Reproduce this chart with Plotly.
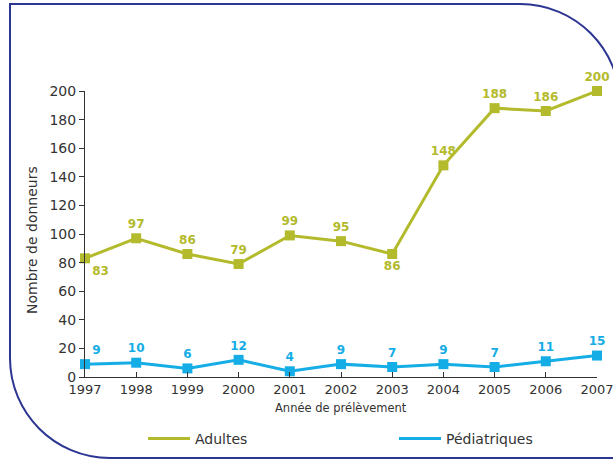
import plotly.graph_objects as go

years = [1997, 1998, 1999, 2000, 2001, 2002, 2003, 2004, 2005, 2006, 2007]
adultes = [83, 97, 86, 79, 99, 95, 86, 148, 188, 186, 200]
pediatriques = [9, 10, 6, 12, 4, 9, 7, 9, 7, 11, 15]
y_ticks = list(range(0, 201, 20))

C_AD = "#b3ba2c"
C_PE = "#14ade6"
NAVY = "#2b3592"
TXT = "#333333"
FONT = "DejaVu Sans"

W, H = 613, 461
L, R, T, B = 85, 16, 91, 84
PW, PH = W - L - R, H - T - B

def px(x):
    return (x - L) / PW

def py(y):
    return (H - B - y) / PH

ad_pos = ["bottom right"] + ["top center"] * 5 + ["bottom center"] + ["top center"] * 4
pe_pos = ["top right"] + ["top center"] * 10

fig = go.Figure()
fig.add_trace(go.Scatter(
    x=years, y=adultes, mode="lines+markers+text", name="Adultes",
    line=dict(color=C_AD, width=3), marker=dict(symbol="square", size=10, color=C_AD),
    text=[str(v) for v in adultes], textposition=ad_pos,
    textfont=dict(family=FONT, size=12, color=C_AD, weight="bold"),
    cliponaxis=False, showlegend=False, hoverinfo="skip"))
fig.add_trace(go.Scatter(
    x=years, y=pediatriques, mode="lines+markers+text", name="Pédiatriques",
    line=dict(color=C_PE, width=3), marker=dict(symbol="square", size=10, color=C_PE),
    text=[str(v) for v in pediatriques], textposition=pe_pos,
    textfont=dict(family=FONT, size=12, color=C_PE, weight="bold"),
    cliponaxis=False, showlegend=False, hoverinfo="skip"))
# legend entries (line only)
fig.add_trace(go.Scatter(x=[None], y=[None], mode="lines", name="Adultes",
                         line=dict(color=C_AD, width=3), legend="legend"))
fig.add_trace(go.Scatter(x=[None], y=[None], mode="lines", name="Pédiatriques",
                         line=dict(color=C_PE, width=3), legend="legend2"))

k = 0.5523 * 100
border = (
    f"M {px(10)},{py(4)} L {px(520)},{py(4)} "
    f"C {px(520 + k)},{py(4)} {px(620)},{py(104 - k)} {px(620)},{py(104)} "
    f"L {px(620)},{py(458)} L {px(110)},{py(458)} "
    f"C {px(110 - k)},{py(458)} {px(10)},{py(358 + k)} {px(10)},{py(358)} Z"
)

leg_common = dict(orientation="h", y=py(439), xanchor="left", yanchor="middle",
                  itemwidth=42, font=dict(family=FONT, size=14, color=TXT),
                  bgcolor="rgba(0,0,0,0)")

fig.update_layout(
    width=W, height=H, autosize=False,
    margin=dict(l=L, r=R, t=T, b=B, autoexpand=False),
    paper_bgcolor="white", plot_bgcolor="white",
    font=dict(family=FONT, color=TXT),
    shapes=[dict(type="path", xref="paper", yref="paper", path=border,
                 line=dict(color=NAVY, width=2), layer="below")],
    xaxis=dict(range=[1997, 2007], tickvals=years, ticktext=[str(y) for y in years],
               showgrid=False, zeroline=False, showline=True, linecolor=TXT, linewidth=1,
               ticks="inside", ticklen=5, tickcolor=TXT, ticklabeloverflow="allow",
               tickfont=dict(family=FONT, size=13, color=TXT)),
    yaxis=dict(range=[0, 200], tickvals=y_ticks, showgrid=False, zeroline=False,
               showline=True, linecolor=TXT, linewidth=1,
               ticks="outside", ticklen=5, tickcolor=TXT,
               tickfont=dict(family=FONT, size=14, color=TXT)),
    legend=dict(x=px(143), **leg_common),
    legend2=dict(x=px(394), **leg_common),
    annotations=[
        dict(text="Nombre de donneurs", xref="paper", yref="paper", x=px(32), y=py(240),
             textangle=-90, showarrow=False, font=dict(family=FONT, size=14, color=TXT),
             xanchor="center", yanchor="middle"),
        dict(text="Année de prélèvement", xref="paper", yref="paper", x=px(341), y=py(408),
             showarrow=False, font=dict(family=FONT, size=11.5, color=TXT),
             xanchor="center", yanchor="middle"),
    ],
)

fig.write_html("out.html", config={"displayModeBar": False},
               post_script="document.body.style.margin='0';document.body.style.padding='0';")
